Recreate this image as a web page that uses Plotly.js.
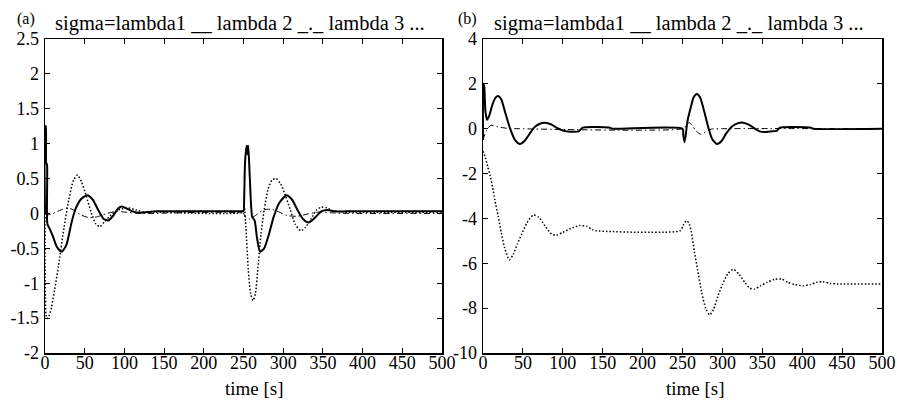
<!DOCTYPE html>
<html>
<head>
<meta charset="utf-8">
<script src="https://cdn.plot.ly/plotly-3.0.1.min.js"></script>
<style>
  html, body { margin: 0; padding: 0; background: #fff; }
  #chart { width: 897px; height: 400px; }
</style>
</head>
<body>
<div id="chart"></div>
<script>
// ---------- Panel (a) ----------
const aSolidT = [0, 0.3, 1, 1.5, 2.5, 3, 6, 10, 15, 21, 27, 33, 38, 45, 53, 60, 67, 74, 80, 86, 92, 97, 103, 110, 120, 140, 249,
                 250, 251, 252, 254, 255, 256, 258, 261, 264, 267, 271, 276, 282, 288, 295, 304, 311, 318, 325, 332, 340, 348, 356, 365, 380, 500];
const aSolidV = [0, 1.25, 1.25, 0.72, 0.7, -0.15, -0.22, -0.33, -0.48, -0.55, -0.45, -0.15, 0.05, 0.2, 0.26, 0.2, 0.05, -0.08, -0.1, -0.03, 0.07, 0.1, 0.07, 0.03, 0.01, 0.03, 0.03,
                 0.03, 0.3, 0.75, 0.97, 0.85, 0.97, 0.5, -0.05, -0.1, -0.35, -0.55, -0.5, -0.3, -0.05, 0.15, 0.26, 0.2, 0.05, -0.08, -0.13, -0.06, 0.03, 0.05, 0.03, 0.03, 0.03];

const aDashT = [0, 3, 10, 20, 28, 36, 45, 55, 65, 78, 90, 100, 120, 250, 252, 258, 265, 275, 285, 295, 305, 318, 330, 345, 360, 380, 500];
const aDashV = [0, -0.02, 0, 0.05, 0.08, 0.05, -0.02, -0.06, -0.05, 0, 0.03, 0.02, 0, 0, -0.05, -0.08, -0.03, 0.05, 0.06, 0.02, -0.03, -0.04, -0.01, 0.02, 0.01, 0, 0];

const aDotT = [0, 0.5, 2, 4, 8, 12, 17, 24, 30, 36, 41, 46, 52, 58, 64, 69, 75, 85, 95, 105, 115, 125, 140, 249,
               251, 253, 256, 259, 262, 265, 268, 272, 276, 281, 286, 291, 297, 303, 309, 315, 322, 328, 335, 342, 348, 355, 362, 375, 500];
const aDotV = [0, -1.2, -1.5, -1.5, -1.35, -1.1, -0.75, -0.2, 0.2, 0.48, 0.55, 0.45, 0.25, 0.02, -0.15, -0.19, -0.12, 0, 0.06, 0.08, 0.05, 0.02, 0.02, 0.02,
               0.1, -0.2, -0.8, -1.15, -1.25, -1.15, -0.8, -0.3, 0.05, 0.35, 0.48, 0.5, 0.42, 0.25, 0.05, -0.15, -0.25, -0.2, -0.08, 0.05, 0.09, 0.08, 0.04, 0.02, 0.02];

// ---------- Panel (b) ----------
const bSolidT = [0, 0.5, 1.5, 3, 5, 8, 12, 16, 19, 23, 28, 34, 40, 46, 52, 58, 64, 71, 78, 85, 92, 100, 109, 120, 125, 158, 162, 250,
                 251, 252.5, 254, 256, 260, 264, 268, 272, 277, 282, 287, 293, 299, 305, 312, 319, 326, 333, 340, 347, 353, 360, 368, 372, 410, 414, 500];
const bSolidV = [-0.5, 2.0, 1.9, 0.8, 0.4, 0.6, 1.1, 1.4, 1.46, 1.3, 0.7, 0.0, -0.5, -0.68, -0.55, -0.25, 0.05, 0.22, 0.27, 0.2, 0.05, -0.08, -0.13, -0.12, 0.05, 0.05, 0, 0,
                 -0.3, -0.6, -0.3, 0.3, 0.9, 1.4, 1.55, 1.4, 0.8, 0.1, -0.45, -0.68, -0.55, -0.2, 0.1, 0.24, 0.27, 0.18, 0.02, -0.12, -0.15, -0.12, -0.1, 0.05, 0.05, 0, 0];

const bDashT = [0, 4, 10, 19, 30, 45, 250, 255, 258, 262, 267, 273, 279, 286, 300, 500];
const bDashV = [-0.5, -0.1, 0.15, 0.08, 0.02, 0, 0, 0.15, 0.28, 0.15, -0.1, -0.25, -0.15, -0.02, 0, 0];

const bDotT = [0, 3, 6, 9, 12, 15, 19, 23, 27, 33, 38, 43, 48, 55, 63, 70, 78, 86, 92, 100, 110, 121, 130, 137, 142, 247,
               251, 255, 258, 261, 265, 269, 274, 279, 284, 289, 294, 300, 307, 314, 321, 328, 334, 340, 348, 356, 365, 374, 382, 390, 401, 410, 418, 426, 435, 445, 500];
const bDotV = [-1.0, -1.3, -1.7, -2.1, -2.6, -3.2, -3.9, -4.65, -5.3, -5.85, -5.6, -5.15, -4.74, -4.2, -3.85, -3.95, -4.35, -4.7, -4.75, -4.62, -4.45, -4.32, -4.35, -4.5, -4.55, -4.55,
               -4.3, -4.1, -4.2, -4.6, -5.5, -6.3, -7.3, -8.0, -8.3, -8.05, -7.5, -6.95, -6.45, -6.27, -6.5, -6.85, -7.1, -7.15, -7.0, -6.85, -6.72, -6.7, -6.85, -6.95, -7.0, -6.95, -6.85, -6.82, -6.9, -6.92, -6.92];

// ---------- Tick labels / text ----------
const xTickVals = [0, 50, 100, 150, 200, 250, 300, 350, 400, 450, 500];
const xTickText = ["0", "50", "100", "150", "200", "250", "300", "350", "400", "450", "500"];
const aTickVals = [-2, -1.5, -1, -0.5, 0, 0.5, 1, 1.5, 2, 2.5];
const aTickText = ["-2", "-1.5", "-1", "-0.5", "0", "0.5", "1", "1.5", "2", "2.5"];
const bTickVals = [-10, -8, -6, -4, -2, 0, 2, 4];
const bTickText = ["-10", "-8", "-6", "-4", "-2", "0", "2", "4"];
const panelTags = ["(a)", "(b)"];
const titleText = "sigma=lambda1 __ lambda 2 _._ lambda 3 ...";
const xTitle = "time [s]";

const FONT = "'Liberation Serif', 'Times New Roman', 'DejaVu Serif', serif";
const W = 897, H = 400;
const px = v => v / W;
const py = v => 1 - v / H;

function tr(t, v, xa, ya, style) {
  const line = { color: "#000", shape: "spline", smoothing: 0.6 };
  if (style === "solid") { line.width = 2; line.dash = "solid"; }
  if (style === "dashdot") { line.width = 1; line.dash = "6px,3px,1.5px,3px"; }
  if (style === "dot") { line.width = 1.5; line.dash = "1.5px,2px"; }
  return { x: t, y: v, xaxis: xa, yaxis: ya, mode: "lines", line: line, hoverinfo: "skip", showlegend: false };
}

const data = [
  tr(aDotT, aDotV, "x", "y", "dot"),
  tr(aDashT, aDashV, "x", "y", "dashdot"),
  tr(aSolidT, aSolidV, "x", "y", "solid"),
  tr(bDotT, bDotV, "x2", "y2", "dot"),
  tr(bDashT, bDashV, "x2", "y2", "dashdot"),
  tr(bSolidT, bSolidV, "x2", "y2", "solid")
];

const plotTop = 39, plotBottom = 353;
const aL = 45, aR = 442, bL = 483, bR = 882;

function xax(l, r, anchor) {
  return {
    domain: [px(l), px(r)], range: [0, 500], anchor: anchor,
    tickmode: "array", tickvals: xTickVals, ticktext: xTickText,
    ticks: "inside", ticklen: 5, tickwidth: 1, tickcolor: "#000",
    showline: true, linecolor: "#000", linewidth: 1.5, mirror: "ticks",
    showgrid: false, zeroline: false, fixedrange: true,
    ticklabelstandoff: -7,
    tickfont: { family: FONT, size: 18, color: "#000" }
  };
}
function yax(range, vals, text, anchor) {
  return {
    domain: [py(plotBottom), py(plotTop)], range: range, anchor: anchor,
    tickmode: "array", tickvals: vals, ticktext: text,
    ticks: "inside", ticklen: 5, tickwidth: 1, tickcolor: "#000",
    showline: true, linecolor: "#000", linewidth: 1.5, mirror: "ticks",
    showgrid: false, zeroline: false, fixedrange: true,
    ticklabelstandoff: 1,
    tickfont: { family: FONT, size: 18, color: "#000" }
  };
}

const annotations = [
  { text: panelTags[0], x: px(26), y: py(19), xref: "paper", yref: "paper", xanchor: "center", yanchor: "middle", showarrow: false, font: { family: FONT, size: 16, color: "#000" } },
  { text: panelTags[1], x: px(467), y: py(19), xref: "paper", yref: "paper", xanchor: "center", yanchor: "middle", showarrow: false, font: { family: FONT, size: 16, color: "#000" } },
  { text: titleText, x: px(53), y: py(23), xref: "paper", yref: "paper", xanchor: "left", yanchor: "middle", showarrow: false, font: { family: FONT, size: 20.5, color: "#000" } },
  { text: titleText, x: px(492), y: py(23), xref: "paper", yref: "paper", xanchor: "left", yanchor: "middle", showarrow: false, font: { family: FONT, size: 20.5, color: "#000" } },
  { text: xTitle, x: px((aL + aR) / 2 + 11), y: py(388), xref: "paper", yref: "paper", xanchor: "center", yanchor: "middle", showarrow: false, font: { family: FONT, size: 19, color: "#000" } },
  { text: xTitle, x: px((bL + bR) / 2 + 13), y: py(388), xref: "paper", yref: "paper", xanchor: "center", yanchor: "middle", showarrow: false, font: { family: FONT, size: 19, color: "#000" } }
];

const layout = {
  width: W, height: H,
  margin: { l: 0, r: 0, t: 0, b: 0 },
  paper_bgcolor: "#fff", plot_bgcolor: "#fff",
  showlegend: false,
  font: { family: FONT, color: "#000" },
  xaxis: xax(aL, aR, "y"),
  yaxis: yax([-2, 2.5], aTickVals, aTickText, "x"),
  xaxis2: xax(bL, bR, "y2"),
  yaxis2: yax([-10, 4], bTickVals, bTickText, "x2"),
  annotations: annotations
};

Plotly.newPlot("chart", data, layout, { staticPlot: true, displayModeBar: false });
</script>
</body>
</html>
